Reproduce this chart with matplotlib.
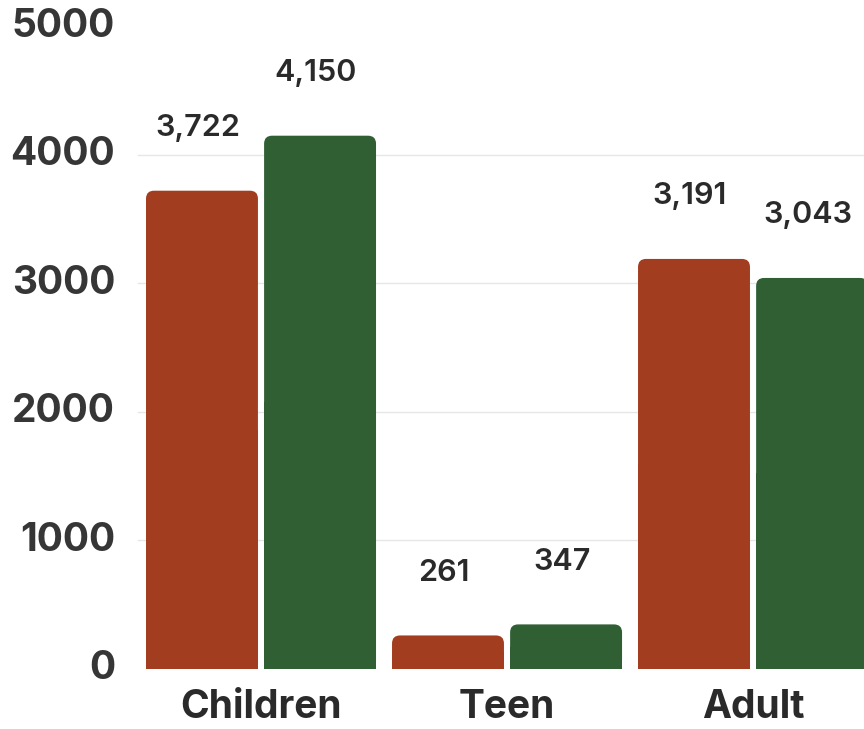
import numpy as np
import matplotlib
matplotlib.use("Agg")
import matplotlib.pyplot as plt
from matplotlib.patches import FancyBboxPatch, Rectangle
import matplotlib.transforms as mtransforms

# data
categories = ["Children", "Teen", "Adult"]
series_a = [3722, 261, 3191]   # red / rust bars
series_b = [4150, 347, 3043]   # green bars
yticks = [0, 1000, 2000, 3000, 4000, 5000]

red = "#a33d1f"
green = "#2f5f33"
txt = "#2a2a2a"

plt.rcParams['font.family'] = ['Inter', 'DejaVu Sans']

fig = plt.figure(figsize=(8.64, 7.29), dpi=100)
ax = fig.add_axes([0, 0, 1, 1])
ax.set_xlim(-1.061, 2.451)
ax.set_ylim(-467, 5206)
ax.axis('off')

# px -> data helpers for corner rounding
px_x = (2.451 + 1.061) / 864
px_y = (5206 + 467) / 729

# faint grid lines
for t in yticks[1:-1]:
    ax.axhline(t, xmin=0.16, xmax=1, color="#e6e6e6", lw=1, zorder=0)

x = np.arange(len(categories))
w = 0.455
off = 0.24

def rounded_bar(xc, h, color):
    r = 8 * px_x
    p = FancyBboxPatch((xc - w / 2, 0), w, h,
                       boxstyle="round,pad=0,rounding_size=%f" % r,
                       mutation_aspect=px_y / px_x,
                       fc=color, ec="none", zorder=2)
    ax.add_patch(p)
    ax.add_patch(Rectangle((xc - w / 2, 0), w, h / 2, fc=color, ec="none", zorder=2))

for i in range(len(categories)):
    rounded_bar(x[i] - off, series_a[i], red)
    rounded_bar(x[i] + off, series_b[i], green)

# value labels
for i in range(len(categories)):
    for xc, v in [(x[i] - off, series_a[i]), (x[i] + off, series_b[i])]:
        ax.annotate("{:,}".format(v), (xc, v), xytext=(-3, 35), textcoords="offset points",
                    ha="center", va="bottom", fontsize=22, fontweight="semibold", color=txt)

# y tick labels drawn inside the figure
trans = mtransforms.blended_transform_factory(ax.transAxes, ax.transData)
for t in yticks:
    ax.text(115 / 864, t, str(t), transform=trans, ha="right", va="center",
            fontsize=28, fontweight="bold", color="#363636")

# category labels
for i, c in enumerate(categories):
    ax.text(x[i], -300, c, ha="center", va="center", fontsize=28,
            fontweight="bold", color=txt)

fig.savefig("out.png", dpi=100, facecolor="white")
